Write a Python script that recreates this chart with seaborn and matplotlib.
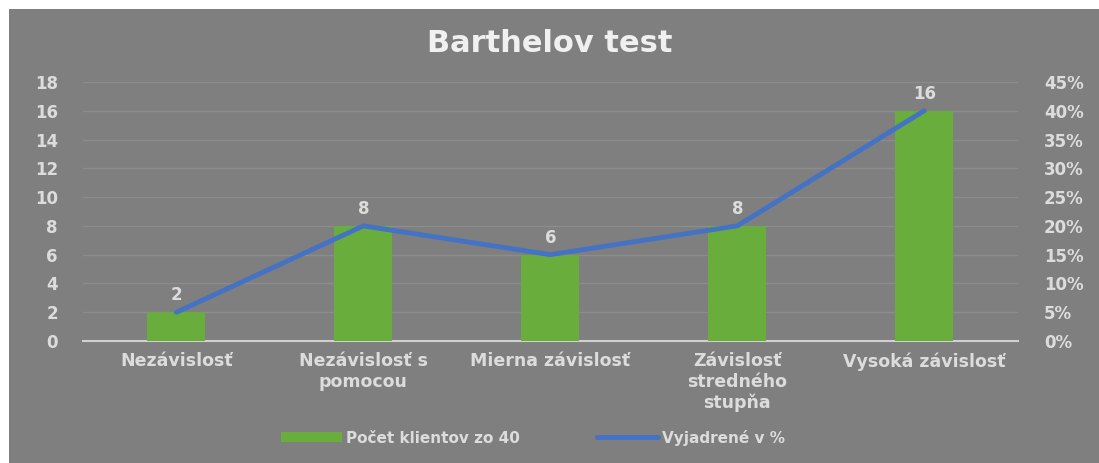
import numpy as np
import pandas as pd
import matplotlib
matplotlib.use('Agg')
import matplotlib.pyplot as plt
import matplotlib.patches as mpatches
from matplotlib.lines import Line2D
from matplotlib.ticker import PercentFormatter
import seaborn as sns

# data
categories = ['Nezávislosť', 'Nezávislosť s\npomocou', 'Mierna závislosť',
              'Závislosť\nstredného\nstupňa', 'Vysoká závislosť']
counts = [2, 8, 6, 8, 16]
percents = [0.05, 0.20, 0.15, 0.20, 0.40]

bar_label = 'Počet klientov zo 40'
line_label = 'Vyjadrené v %'

bg = '#7f7f7f'
txt = '#dcdcdc'
green = '#69ad3d'
blue = '#4472c4'

sns.set_style('white')
plt.rcParams['font.family'] = ['DejaVu Sans']

df = pd.DataFrame({'kategoria': categories, 'pocet': counts, 'pct': percents})

fig = plt.figure(figsize=(10.99, 4.63), dpi=100, facecolor='white')
# gray chart area with a thin white margin at top/left
fig.patches.append(mpatches.Rectangle((9 / 1099, 0), 1, 1 - 9 / 463,
                                      transform=fig.transFigure,
                                      facecolor=bg, edgecolor='none', zorder=-10))

ax = fig.add_axes([0.0755, 0.2635, 0.8505, 0.5595])
ax.set_facecolor('none')
sns.barplot(data=df, x='kategoria', y='pocet', color=green, width=0.31,
            saturation=1, linewidth=0, edgecolor='none', ax=ax, zorder=3)
ax.set_ylim(0, 18)
ax.set_yticks(range(0, 19, 2))
ax.set_xlim(-0.5, len(categories) - 0.5)
ax.set_xlabel('')
ax.set_ylabel('')
ax.grid(axis='y', color='#8c8c8c', linewidth=1, zorder=0)
ax.set_axisbelow(True)
for s in ['top', 'left', 'right']:
    ax.spines[s].set_visible(False)
ax.spines['bottom'].set_color('#d0d0d0')
ax.spines['bottom'].set_linewidth(1.5)

for i, v in enumerate(counts):
    ax.text(i, v + 0.55, str(v), ha='center', va='bottom', color=txt,
            fontsize=12, fontweight='bold', zorder=5)

ax2 = ax.twinx()
sns.lineplot(x=np.arange(len(categories)), y=percents, color=blue,
             linewidth=3.5, ax=ax2, zorder=4)
ax2.set_ylim(0, 0.45)
ax2.set_yticks(np.arange(0, 0.46, 0.05))
ax2.yaxis.set_major_formatter(PercentFormatter(1.0, decimals=0))
ax2.set_xlim(-0.5, len(categories) - 0.5)
for s in ax2.spines.values():
    s.set_visible(False)
ax2.set_ylabel('')

# tick styling last, after twinx
ax.tick_params(axis='x', length=0, colors=txt, labelsize=12.5, pad=8)
ax.tick_params(axis='y', length=0, colors=txt, labelsize=12, pad=18)
ax2.tick_params(axis='y', length=0, colors=txt, labelsize=12, pad=19)
for lab in ax.get_xticklabels() + ax.get_yticklabels() + ax2.get_yticklabels():
    lab.set_fontweight('bold')

fig.text(0.5, 0.905, 'Barthelov test', ha='center', va='center',
         color='#f0f0f0', fontsize=22, fontweight='bold')

handles = [mpatches.Patch(facecolor=green, edgecolor='none', label=bar_label),
           Line2D([0], [0], color=blue, linewidth=3.5, label=line_label)]
leg = fig.legend(handles=handles, loc='center', bbox_to_anchor=(0.485, 0.055),
                 ncol=2, frameon=False, labelcolor=txt,
                 prop={'weight': 'bold', 'size': 11},
                 handlelength=4, handleheight=0.6, columnspacing=5,
                 handletextpad=0.3)

fig.savefig('out.png', dpi=100, facecolor=fig.get_facecolor())
